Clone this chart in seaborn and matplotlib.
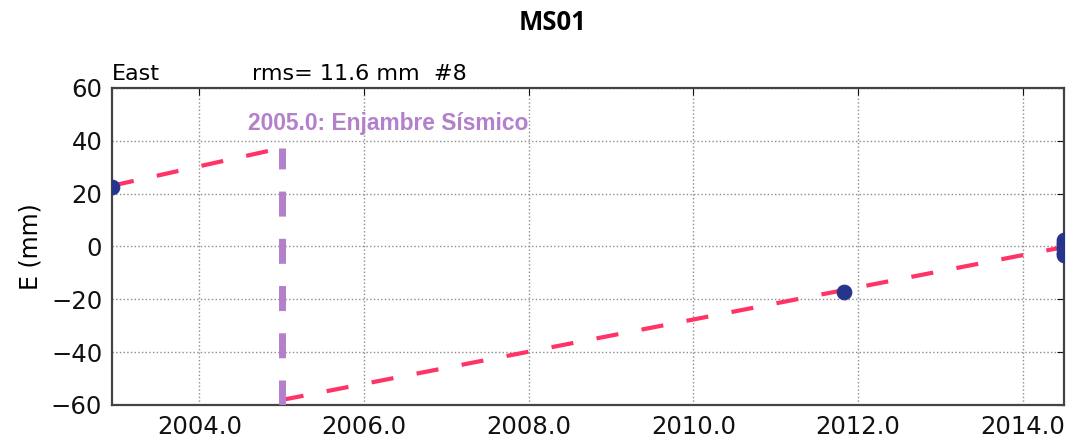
import numpy as np
import pandas as pd
import matplotlib
matplotlib.use("Agg")
import matplotlib.pyplot as plt
from matplotlib import font_manager as fm
from matplotlib.ticker import FormatStrFormatter
import seaborn as sns

# ---- data ----
obs_t = [2002.94, 2011.83, 2014.50, 2014.50, 2014.50, 2014.50, 2014.50, 2014.50]
obs_e = [22.5, -17.2, 2.5, 1.5, 0.5, -1.0, -2.5, -3.2]

model_pre_t = [2002.94, 2005.0]
model_pre_e = [23.0, 37.3]
model_post_t = [2005.0, 2014.5]
model_post_e = [-58.1, -0.2]

event_t = 2005.0
event_label = "2005.0: Enjambre Sísmico"
station = "MS01"
component = "East"
rms_text = "rms= 11.6 mm  #8"
ylabel = "E (mm)"
xticks = [2004, 2006, 2008, 2010, 2012, 2014]
yticks = [-60, -40, -20, 0, 20, 40, 60]

sns.set_style("white")
plt.rcParams["font.family"] = ["DejaVu Sans"]
plt.rcParams["lines.scale_dashes"] = False
plt.rcParams["text.color"] = "black"
plt.rcParams["axes.labelcolor"] = "black"

label_fp = fm.FontProperties(family="Liberation Sans", weight="bold", size=16.4)

fig = plt.figure(figsize=(10.71, 4.40), dpi=100)
ax = fig.add_axes([112 / 1071, 1 - 405 / 440, (1064 - 112) / 1071, (405 - 88) / 440])

red = "#ff3366"
purple = "#b380cc"
blue = "#26358c"

pre = pd.DataFrame({"t": model_pre_t, "e": model_pre_e})
post = pd.DataFrame({"t": model_post_t, "e": model_post_e})
sns.lineplot(data=pre, x="t", y="e", color=red, lw=3, ax=ax, estimator=None, zorder=3)
sns.lineplot(data=post, x="t", y="e", color=red, lw=3, ax=ax, estimator=None, zorder=3)
for ln in ax.get_lines():
    ln.set_dashes((16, 17))

ev, = ax.plot([event_t, event_t], [-60, model_pre_e[1]], color=purple, lw=5, zorder=4)
ev.set_dashes((18, 16))

obs = pd.DataFrame({"t": obs_t, "e": obs_e})
sns.scatterplot(data=obs, x="t", y="e", color=blue, s=110, edgecolor=blue, ax=ax, zorder=5)

ax.text(2004.59, 44.0, event_label, color=purple, fontproperties=label_fp,
        ha="left", va="baseline", zorder=6)

ax.set_xlim(2002.94, 2014.5)
ax.set_ylim(-60, 60)
ax.set_xticks(xticks)
ax.set_yticks(yticks)
ax.xaxis.set_major_formatter(FormatStrFormatter("%.1f"))
ax.tick_params(direction="in", top=True, right=True, length=5, labelsize=17.5, pad=7,
               colors="#111111")
ax.set_xlabel("")
ax.set_ylabel(ylabel, fontsize=17, labelpad=6)
ax.grid(True, linestyle=":", color="0.55", lw=1)
for s in ax.spines.values():
    s.set_color("#444444")
    s.set_linewidth(1.6)

fig.text(112 / 1071, 1 - 80 / 440, component, fontsize=16, ha="left", va="baseline")
fig.text(252 / 1071, 1 - 80 / 440, rms_text, fontsize=16, ha="left", va="baseline")
fig.text(553 / 1071, 1 - 30 / 440, station, fontsize=18.5, fontweight="bold",
         family="Open Sans", ha="center", va="baseline")

fig.savefig("out.png", dpi=100)
